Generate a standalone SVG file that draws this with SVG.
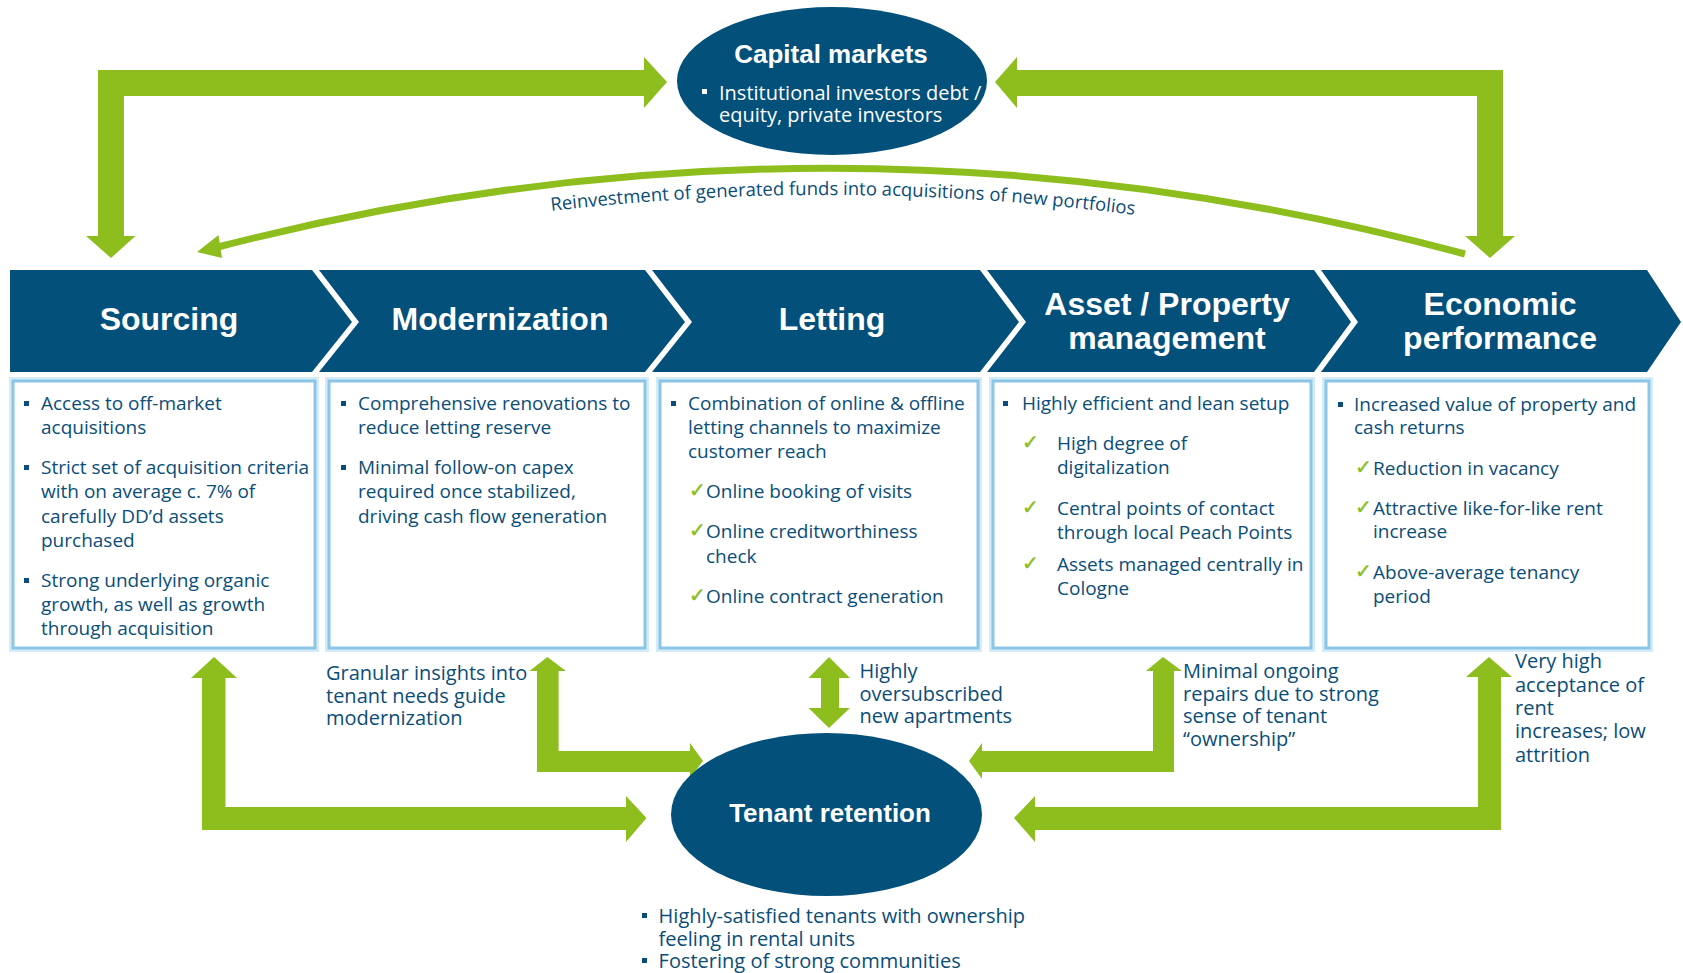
<svg xmlns="http://www.w3.org/2000/svg" width="1683" height="973" viewBox="0 0 1683 973">
<style>
.band{fill:#03507b}
.hd{font-family:"Liberation Sans",Arial,sans-serif;font-weight:bold;font-size:32px;fill:#fff;text-anchor:middle}
.ell{fill:#03507b}
.et{font-family:"Liberation Sans",Arial,sans-serif;font-weight:bold;font-size:26px;fill:#fff;text-anchor:middle}
.glow{fill:#fff;stroke:#d4ebf8;stroke-width:8}
.box{fill:#fff;stroke:#8cc6e7;stroke-width:3}
.t{font-family:"Open Sans","Liberation Sans",sans-serif;font-size:19px;fill:#0a4d78}
.a{font-family:"Open Sans","Liberation Sans",sans-serif;font-size:20px;fill:#0a4d78}
.w{font-family:"Open Sans","Liberation Sans",sans-serif;font-size:20px;fill:#fff}
.ck{font-family:"DejaVu Sans",sans-serif;font-size:20px;fill:#8dbe1e;stroke:#8dbe1e;stroke-width:0.5}
.bu{fill:#0a4d78}
.gr{fill:#8dbe1e}
.cv{fill:none;stroke:#8dbe1e;stroke-width:7}
.rt{font-family:"Open Sans","Liberation Sans",sans-serif;font-size:18.5px;fill:#0a4d78}
</style>
<defs>
<path id="txtcurve" d="M220,273 Q841.5,113 1465,281"/>
</defs>
<rect width="1683" height="973" fill="#fff"/>

<g id="connectors">
<polygon class="gr" points="111,258 135.5,236 124,236 124,96 644,96 644,108 667,82 644,57 644,70 98,70 98,236 86,236"/>
<polygon class="gr" points="1490,258 1515,236 1503,236 1503,70 1017,70 1017,57 995,82 1017,108 1017,96 1477,96 1477,236 1465,236"/>
<path class="cv" d="M1465,254 Q841.5,86 218,247"/>
<polygon class="gr" points="197,252 218.5,235 222,258"/>
<polygon class="gr" points="214,657 237,678 225.5,678 225.5,807 626,807 626,796 646.5,818 626,842 626,830 202,830 202,678 191,678"/>
<polygon class="gr" points="547.4,657 566,671 558.6,671 558.6,751 690,751 690,743 703,761 690,778 690,772 537,772 537,671 529.5,671"/>
<polygon class="gr" points="829,657 850,678 839,678 839,708 850,708 829,728 808.5,708 821,708 821,678 808.5,678"/>
<polygon class="gr" points="1163,657 1182,671 1174,671 1174,772 982,772 982,779 969,761 982,743 982,751 1153,751 1153,671 1146,671"/>
<polygon class="gr" points="1489,657 1512,677 1501,677 1501,830 1035,830 1035,842 1014,818 1035,796 1035,807 1478,807 1478,677 1466,677"/>
<text class="rt"><textPath href="#txtcurve" startOffset="50%" text-anchor="middle">Reinvestment of generated funds into acquisitions of new portfolios</textPath></text>
</g>

<g id="capital-markets">
<ellipse class="ell" cx="832" cy="81" rx="155" ry="74"/>
<text class="et" x="831" y="63">Capital markets</text>
<rect fill="#fff" x="702" y="89" width="5" height="5"/>
<text class="w" x="719" y="100">Institutional investors debt /</text>
<text class="w" x="719" y="122">equity, private investors</text>
</g>

<g id="sourcing">
<polygon class="band" points="10,270 312,270 352,322 312,372 10,372"/>
<text class="hd" x="169" y="330">Sourcing</text>
<rect class="glow" x="13" y="381" width="302" height="267"/>
<rect class="box" x="13" y="381" width="302" height="267"/>
<rect class="bu" x="24" y="401" width="5" height="5"/>
<text class="t" x="41" y="410">Access to off-market</text>
<text class="t" x="41" y="434">acquisitions</text>
<rect class="bu" x="24" y="465" width="5" height="5"/>
<text class="t" x="41" y="474">Strict set of acquisition criteria</text>
<text class="t" x="41" y="498">with on average c. 7% of</text>
<text class="t" x="41" y="523">carefully DD’d assets</text>
<text class="t" x="41" y="547">purchased</text>
<rect class="bu" x="24" y="578" width="5" height="5"/>
<text class="t" x="41" y="587">Strong underlying organic</text>
<text class="t" x="41" y="611">growth, as well as growth</text>
<text class="t" x="41" y="635">through acquisition</text>
</g>

<g id="modernization">
<polygon class="band" points="319,270 645,270 685,322 645,372 319,372 359,322"/>
<text class="hd" x="500" y="330">Modernization</text>
<rect class="glow" x="329" y="381" width="316" height="267"/>
<rect class="box" x="329" y="381" width="316" height="267"/>
<rect class="bu" x="341" y="401" width="5" height="5"/>
<text class="t" x="358" y="410">Comprehensive renovations to</text>
<text class="t" x="358" y="434">reduce letting reserve</text>
<rect class="bu" x="341" y="465" width="5" height="5"/>
<text class="t" x="358" y="474">Minimal follow-on capex</text>
<text class="t" x="358" y="498">required once stabilized,</text>
<text class="t" x="358" y="523">driving cash flow generation</text>
</g>

<g id="letting">
<polygon class="band" points="652,270 980,270 1019,322 980,372 652,372 692,322"/>
<text class="hd" x="832" y="330">Letting</text>
<rect class="glow" x="660" y="381" width="318" height="267"/>
<rect class="box" x="660" y="381" width="318" height="267"/>
<rect class="bu" x="671" y="401" width="5" height="5"/>
<text class="t" x="688" y="410">Combination of online &amp; offline</text>
<text class="t" x="688" y="434">letting channels to maximize</text>
<text class="t" x="688" y="458">customer reach</text>
<text class="ck" x="689" y="497">✓</text>
<text class="t" x="706" y="498">Online booking of visits</text>
<text class="ck" x="689" y="537">✓</text>
<text class="t" x="706" y="538">Online creditworthiness</text>
<text class="t" x="706" y="563">check</text>
<text class="ck" x="689" y="602">✓</text>
<text class="t" x="706" y="603">Online contract generation</text>
</g>

<g id="asset-property-management">
<polygon class="band" points="987,270 1314,270 1351,322 1314,372 987,372 1026,322"/>
<text class="hd" x="1167" y="315">Asset / Property</text>
<text class="hd" x="1167" y="349">management</text>
<rect class="glow" x="993" y="381" width="318" height="267"/>
<rect class="box" x="993" y="381" width="318" height="267"/>
<rect class="bu" x="1003" y="401" width="5" height="5"/>
<text class="t" x="1022" y="410">Highly efficient and lean setup</text>
<text class="ck" x="1022" y="449">✓</text>
<text class="t" x="1057" y="450">High degree of</text>
<text class="t" x="1057" y="474">digitalization</text>
<text class="ck" x="1022" y="514">✓</text>
<text class="t" x="1057" y="515">Central points of contact</text>
<text class="t" x="1057" y="539">through local Peach Points</text>
<text class="ck" x="1022" y="570">✓</text>
<text class="t" x="1057" y="571">Assets managed centrally in</text>
<text class="t" x="1057" y="595">Cologne</text>
</g>

<g id="economic-performance">
<polygon class="band" points="1321,270 1647,270 1681,322 1647,372 1321,372 1358,322"/>
<text class="hd" x="1500" y="315">Economic</text>
<text class="hd" x="1500" y="349">performance</text>
<rect class="glow" x="1326" y="381" width="323" height="267"/>
<rect class="box" x="1326" y="381" width="323" height="267"/>
<rect class="bu" x="1338" y="402" width="5" height="5"/>
<text class="t" x="1354" y="411">Increased value of property and</text>
<text class="t" x="1354" y="434">cash returns</text>
<text class="ck" x="1355" y="474">✓</text>
<text class="t" x="1373" y="475">Reduction in vacancy</text>
<text class="ck" x="1355" y="514">✓</text>
<text class="t" x="1373" y="515">Attractive like-for-like rent</text>
<text class="t" x="1373" y="538">increase</text>
<text class="ck" x="1355" y="578">✓</text>
<text class="t" x="1373" y="579">Above-average tenancy</text>
<text class="t" x="1373" y="603">period</text>
</g>

<g id="tenant-retention">
<ellipse class="ell" cx="826.5" cy="814.5" rx="155.5" ry="81.5"/>
<text class="et" x="830" y="822">Tenant retention</text>
<rect class="bu" x="642" y="913" width="5" height="5"/>
<text class="a" x="658.6" y="923">Highly-satisfied tenants with ownership</text>
<text class="a" x="658.6" y="946">feeling in rental units</text>
<rect class="bu" x="642" y="958" width="5" height="5"/>
<text class="a" x="658.6" y="968">Fostering of strong communities</text>
</g>

<g id="annotations">
<text class="a" x="326" y="680">Granular insights into</text>
<text class="a" x="326" y="703">tenant needs guide</text>
<text class="a" x="326" y="725">modernization</text>
<text class="a" x="859.5" y="678">Highly</text>
<text class="a" x="859.5" y="701">oversubscribed</text>
<text class="a" x="859.5" y="723">new apartments</text>
<text class="a" x="1183" y="678">Minimal ongoing</text>
<text class="a" x="1183" y="701">repairs due to strong</text>
<text class="a" x="1183" y="723">sense of tenant</text>
<text class="a" x="1183" y="746">“ownership”</text>
<text class="a" x="1515" y="668">Very high</text>
<text class="a" x="1515" y="692">acceptance of</text>
<text class="a" x="1515" y="715">rent</text>
<text class="a" x="1515" y="738">increases; low</text>
<text class="a" x="1515" y="762">attrition</text>
</g>
</svg>
